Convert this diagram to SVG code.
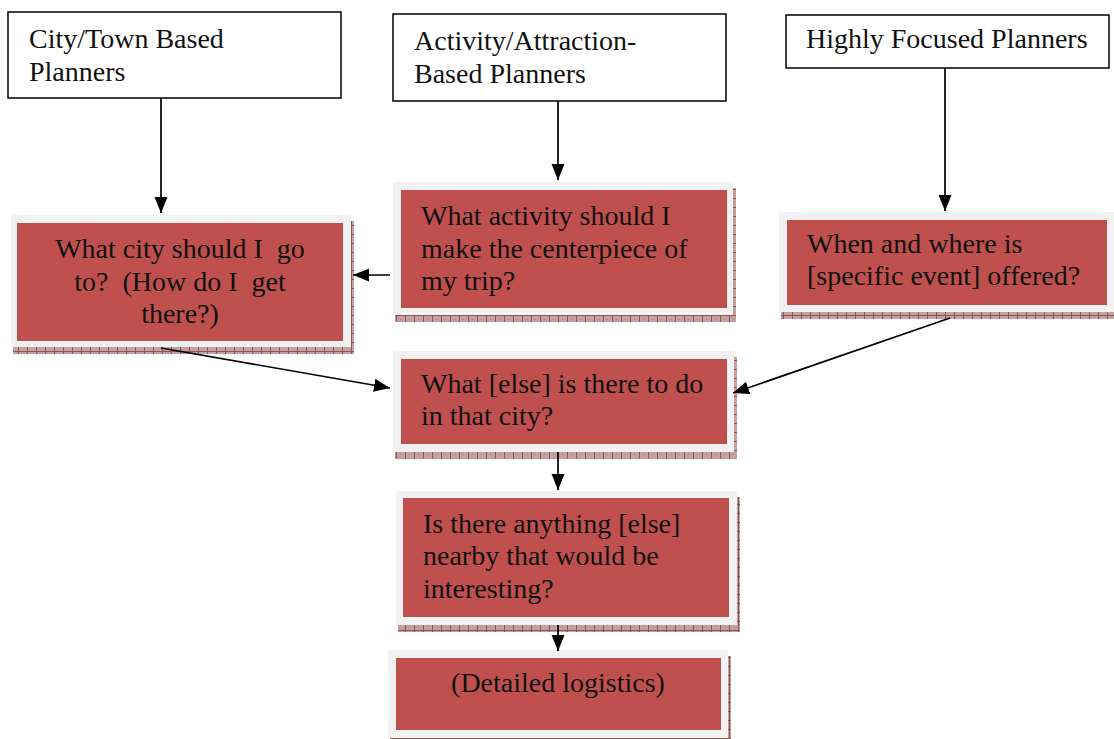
<svg xmlns="http://www.w3.org/2000/svg" width="1114" height="739" viewBox="0 0 1114 739">
<style>
text{font-family:"Liberation Serif","Times New Roman",serif;font-size:28px;fill:#111}
.top{fill:#fff;stroke:#000;stroke-width:1.5}
.outer{fill:#f2f2f2}
.red{fill:#c0504d}
.shadow{fill:url(#shadowPat)}
.conn{stroke:#000;stroke-width:1.7;fill:none;marker-end:url(#arrow)}
.c{text-anchor:middle}
</style>
<defs>
<pattern id="shadowPat" width="9" height="9" patternUnits="userSpaceOnUse">
<rect width="9" height="9" fill="#c4a0a0"/>
<rect x="0" y="0" width="1" height="9" fill="#8a5656"/>
<rect x="0" y="0" width="9" height="1" fill="#8a5656"/>
<rect x="4" y="4" width="1" height="1" fill="#a27878"/>
</pattern>
<marker id="arrow" markerUnits="userSpaceOnUse" markerWidth="17" markerHeight="14" refX="16" refY="6.5" orient="auto">
<path d="M0,0 L16,6.5 L0,13 z" fill="#000"/>
</marker>
</defs>

<g id="city-planners">
<rect class="top" x="8" y="12" width="333" height="86"/>
<text x="29" y="48">City/Town Based</text>
<text x="29" y="81">Planners</text>
</g>

<g id="activity-planners">
<rect class="top" x="393" y="14" width="333" height="87"/>
<text x="414" y="50">Activity/Attraction-</text>
<text x="414" y="83">Based Planners</text>
</g>

<g id="focused-planners">
<rect class="top" x="786" y="15" width="323" height="53"/>
<text x="806" y="48">Highly Focused Planners</text>
</g>

<g id="q-city">
<rect class="shadow" x="13" y="221" width="341" height="133"/>
<rect class="outer" x="11" y="215" width="340" height="132"/>
<rect class="red" x="17" y="223" width="326" height="118"/>
<text class="c" x="180" y="258" xml:space="preserve">What city should I  go</text>
<text class="c" x="180" y="291" xml:space="preserve">to?  (How do I  get</text>
<text class="c" x="180" y="323">there?)</text>
</g>

<g id="q-activity">
<rect class="shadow" x="395" y="188" width="341" height="134"/>
<rect class="outer" x="393" y="182" width="340" height="133"/>
<rect class="red" x="401" y="190" width="326" height="118"/>
<text x="421" y="225">What activity should I</text>
<text x="421" y="258">make the centerpiece of</text>
<text x="421" y="290">my trip?</text>
</g>

<g id="q-when">
<rect class="shadow" x="781" y="218" width="336" height="101"/>
<rect class="outer" x="779" y="212" width="336" height="100"/>
<rect class="red" x="787" y="220" width="320" height="85"/>
<text x="807" y="253">When and where is</text>
<text x="807" y="285">[specific event] offered?</text>
</g>

<g id="q-else">
<rect class="shadow" x="395" y="357" width="342" height="102"/>
<rect class="outer" x="393" y="351" width="341" height="101"/>
<rect class="red" x="401" y="359" width="326" height="85"/>
<text x="421" y="393">What [else] is there to do</text>
<text x="421" y="425">in that city?</text>
</g>

<g id="q-nearby">
<rect class="shadow" x="398" y="497" width="342" height="135"/>
<rect class="outer" x="396" y="491" width="341" height="134"/>
<rect class="red" x="403" y="498" width="326" height="119"/>
<text x="423" y="533">Is there anything [else]</text>
<text x="423" y="565">nearby that would be</text>
<text x="423" y="598">interesting?</text>
</g>

<g id="logistics">
<rect class="shadow" x="390" y="656" width="341" height="90"/>
<rect class="outer" x="388" y="650" width="340" height="88"/>
<rect class="red" x="396" y="658" width="325" height="72"/>
<text class="c" x="558" y="692">(Detailed logistics)</text>
</g>

<g id="connectors">
<line class="conn" x1="161" y1="98" x2="161" y2="213"/>
<line class="conn" x1="558" y1="101" x2="558" y2="180"/>
<line class="conn" x1="945" y1="68" x2="945" y2="211"/>
<line class="conn" x1="390" y1="275" x2="353" y2="275"/>
<line class="conn" x1="161" y1="348" x2="390" y2="388"/>
<line class="conn" x1="950" y1="318" x2="733" y2="393"/>
<line class="conn" x1="558" y1="452" x2="558" y2="490"/>
<line class="conn" x1="558" y1="625" x2="558" y2="651"/>
</g>
</svg>
